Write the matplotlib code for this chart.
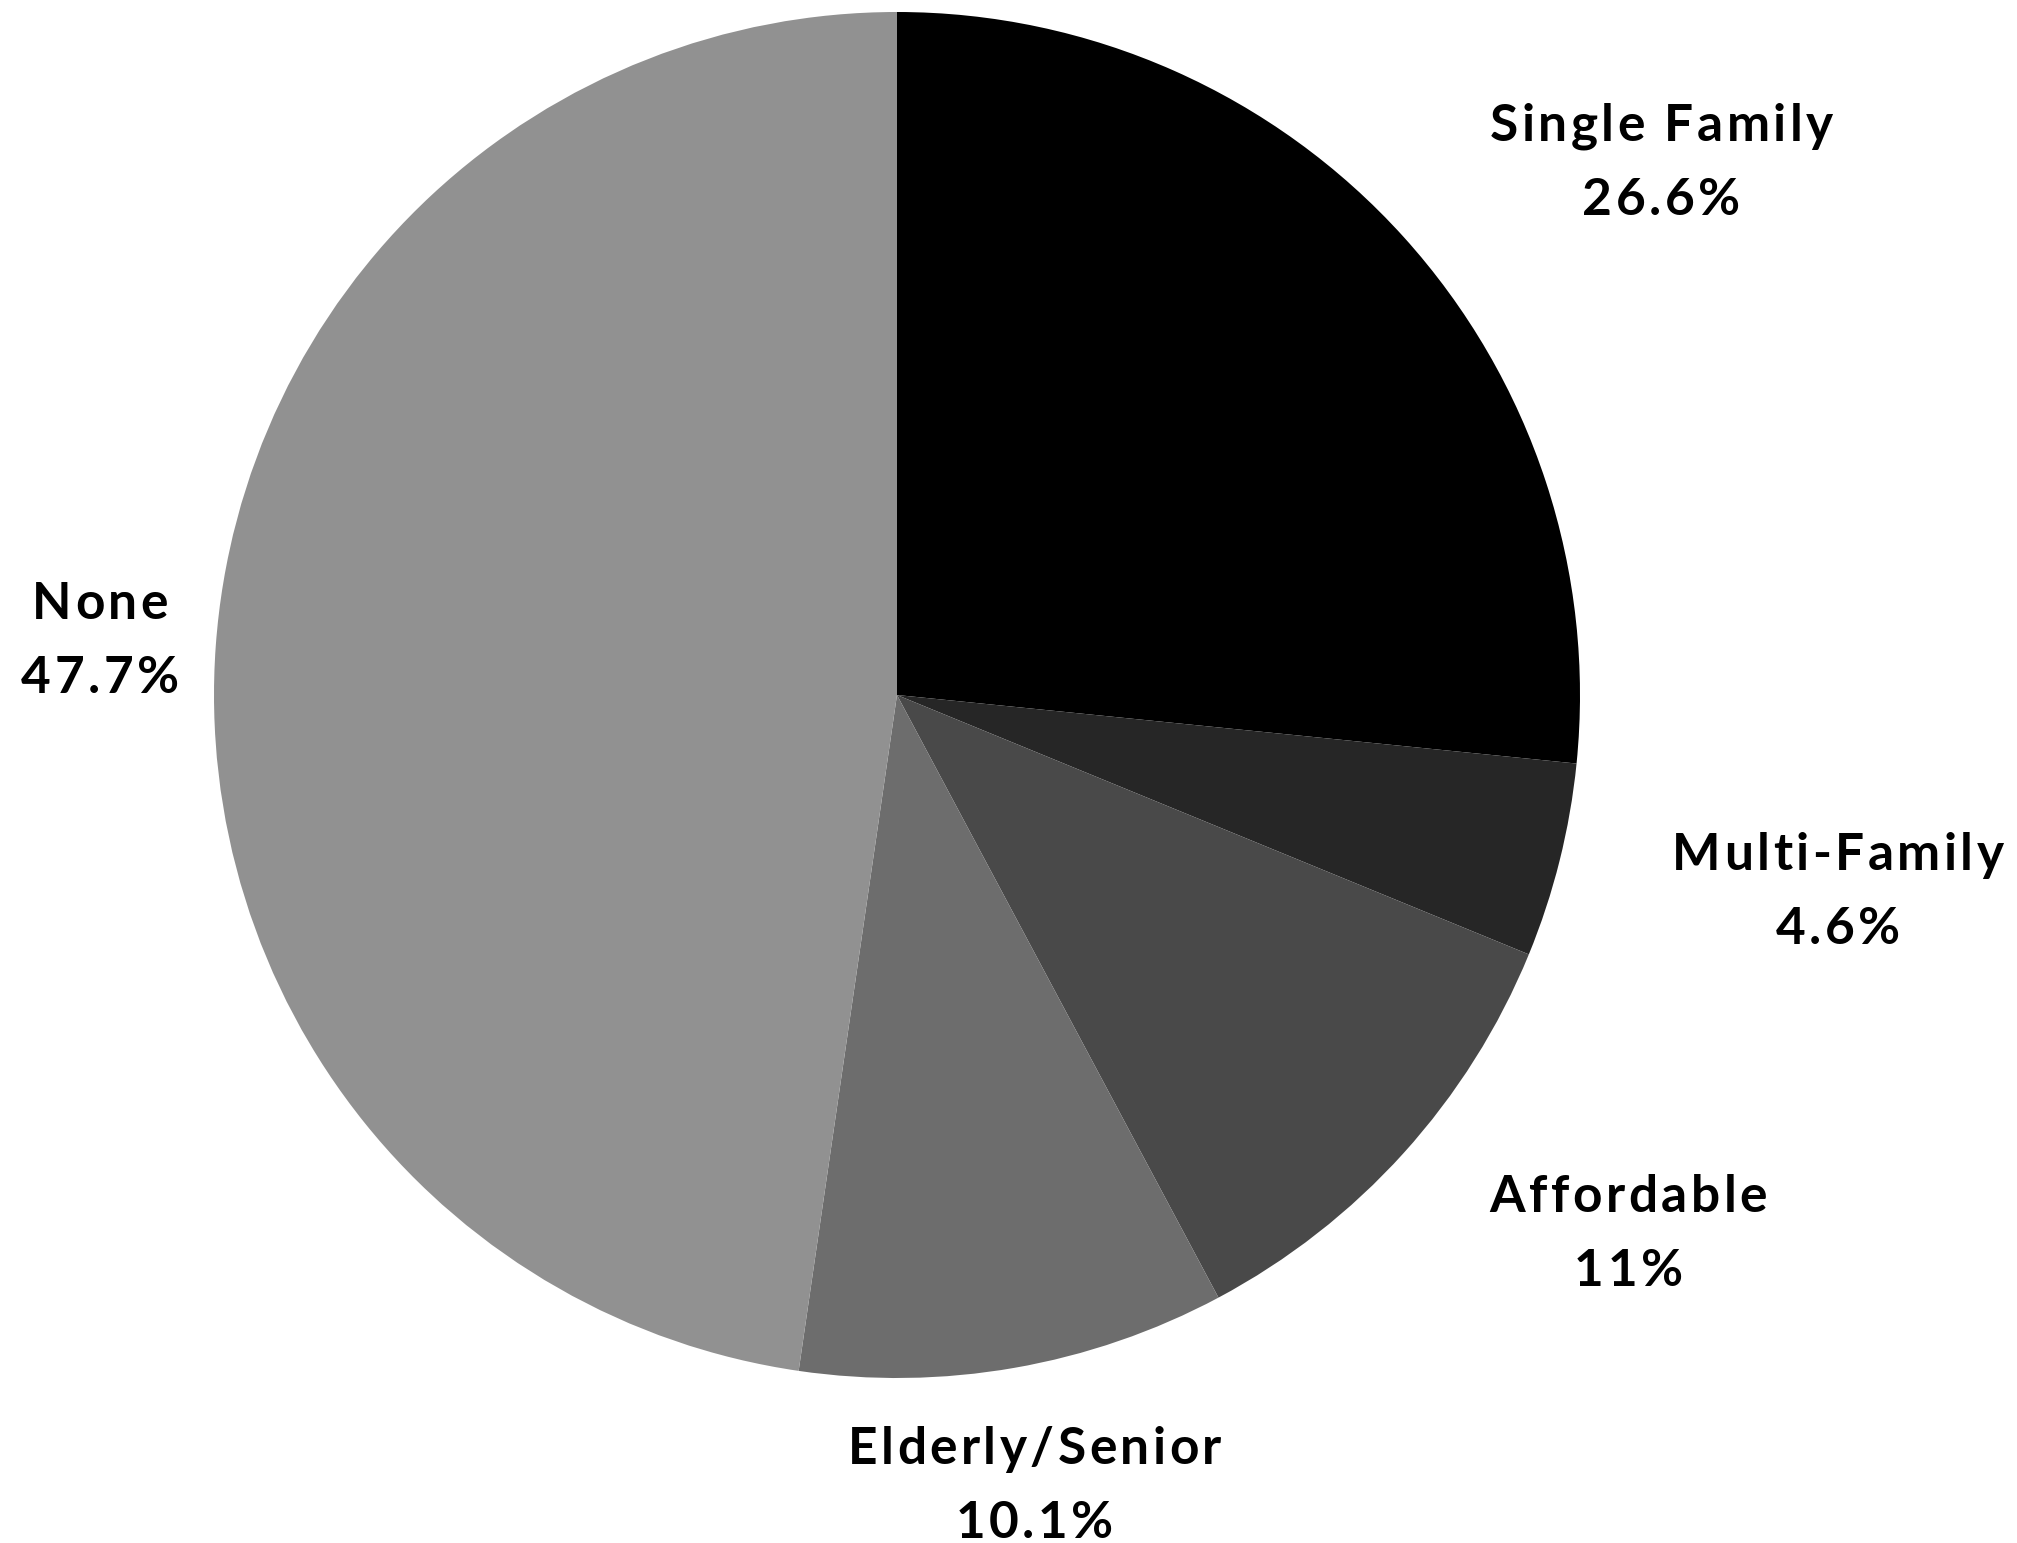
import numpy as np
import matplotlib
matplotlib.use("Agg")
import matplotlib.pyplot as plt
from matplotlib.font_manager import FontProperties, findfont, get_font

# housing type breakdown (percent)
categories = ["Single Family", "Multi-Family", "Affordable", "Elderly/Senior", "None"]
shares = [26.6, 4.6, 11, 10.1, 47.7]
share_labels = ["26.6%", "4.6%", "11%", "10.1%", "47.7%"]
colors = ["#000000", "#262626", "#494949", "#6d6d6d", "#919191"]

W, H = 2017, 1543
DPI = 100
FS = 37
TRACK = 3.5          # extra letter spacing, px
LINE_GAP = 74        # baseline to baseline, px
CAP = 37             # cap height, px

fig = plt.figure(figsize=(W / DPI, H / DPI), dpi=DPI)
ax = fig.add_axes([0, 0, 1, 1])

cx, cy, r = 897, 848, 683
wedges, _ = ax.pie(shares, colors=colors, startangle=90, counterclock=False,
                   center=(cx, cy), radius=r, frame=True,
                   wedgeprops=dict(linewidth=0))
# axes spans the figure in pixel units
ax.set_xlim(0, W)
ax.set_ylim(0, H)
ax.set_aspect("equal")
ax.axis("off")

prop = FontProperties(family="Lato", weight="bold", size=FS)
font = get_font(findfont(prop))
font.set_size(FS, DPI)


def char_offsets(s):
    # pen positions of each glyph, with kerning and tracking
    xs, pen, prev = [], 0.0, None
    for ch in s:
        idx = font.get_char_index(ord(ch))
        if prev is not None:
            pen += font.get_kerning(prev, idx, 0) / 64.0
        xs.append(pen)
        g = font.load_char(ord(ch))
        pen += g.linearHoriAdvance / 65536.0 + TRACK
        prev = idx
    return xs, pen - TRACK


def tracked_label(x, y, lines, ha):
    layouts = [char_offsets(s) for s in lines]
    block_w = max(w for _, w in layouts)
    if ha == "left":
        left = x
    else:
        left = x - block_w / 2
    top_base = y + LINE_GAP / 2 - CAP / 2
    for k, (s, (xs, w)) in enumerate(zip(lines, layouts)):
        x0 = left + (block_w - w) / 2
        yb = top_base - k * LINE_GAP
        for ch, dx in zip(s, xs):
            ax.text(x0 + dx, yb, ch, ha="left", va="baseline",
                    fontproperties=prop, color="black")


# labels sit just outside the rim along each wedge's middle angle
for w, name, lab in zip(wedges, categories, share_labels):
    mid = np.deg2rad((w.theta1 + w.theta2) / 2)
    x = cx + 1.17 * r * np.cos(mid)
    y = cy + 1.17 * r * np.sin(mid)
    ha = "left" if np.cos(mid) > 0.3 else "center"
    tracked_label(x, y, [name, lab], ha)

fig.savefig("out.png", dpi=DPI, facecolor="white")
